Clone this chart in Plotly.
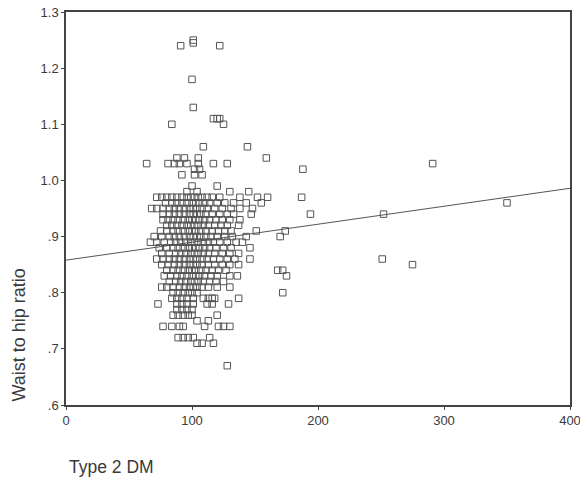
import plotly.graph_objects as go

# Outlying points (Type 2 DM value, waist-to-hip ratio)
outlier_x = [91, 101, 101, 122, 100, 101, 84, 117, 120, 122, 125, 109, 144, 159,
             188, 187, 194, 252, 291, 350, 251, 275, 168, 172, 175, 172, 170, 174, 128]
outlier_y = [1.24, 1.25, 1.245, 1.24, 1.18, 1.13, 1.10, 1.11, 1.11, 1.11, 1.10, 1.06, 1.06, 1.04,
             1.02, 0.97, 0.94, 0.94, 1.03, 0.96, 0.86, 0.85, 0.84, 0.84, 0.83, 0.80, 0.90, 0.91, 0.67]

# Upper part of the main cluster: ratio -> Type 2 DM values
upper_rows = {
    1.04: [88, 94, 105],
    1.03: [64, 81, 86, 90, 96, 105, 117, 128],
    1.02: [102, 106],
    1.01: [92, 102, 108],
    0.99: [100, 120],
    0.98: [96, 104, 130, 145],
    0.97: [72, 76, 80, 84, 88, 92, 96, 99, 102, 105, 108, 112, 116, 122, 138, 152, 160],
    0.96: [79, 84, 88, 92, 96, 100, 103, 106, 110, 114, 120, 126, 133, 143, 155],
    0.95: [68, 72, 77, 82, 86, 90, 94, 98, 101, 104, 108, 112, 118, 124, 131, 138, 148],
    0.94: [77, 82, 86, 90, 94, 98, 101, 104, 107, 111, 116, 122, 128, 133, 147],
    0.93: [77, 81, 85, 89, 93, 97, 100, 103, 106, 110, 114, 119, 124, 130, 138],
    0.92: [80, 84, 88, 92, 96, 99, 102, 105, 109, 113, 118, 123, 128, 137],
    0.91: [75, 80, 85, 89, 93, 97, 100, 103, 107, 111, 116, 121, 126, 131, 151],
}

# Middle part of the main cluster
middle_rows = {
    0.90: [70, 76, 82, 86, 90, 94, 98, 101, 104, 107, 111, 115, 120, 126, 132, 143],
    0.89: [67, 72, 78, 83, 87, 91, 95, 99, 102, 105, 109, 113, 117, 122, 128, 135, 140],
    0.88: [74, 80, 85, 89, 93, 97, 100, 103, 106, 110, 114, 119, 125, 131, 146],
    0.87: [76, 82, 87, 91, 95, 99, 102, 105, 109, 113, 118, 124, 130, 137],
    0.86: [72, 77, 82, 86, 90, 94, 98, 101, 104, 108, 112, 117, 122, 128, 134, 146],
    0.85: [76, 81, 86, 90, 94, 98, 101, 104, 108, 113, 118, 124, 130, 137],
    0.84: [80, 85, 89, 93, 97, 100, 103, 107, 111, 116, 121, 127],
    0.83: [78, 83, 88, 92, 96, 100, 103, 106, 110, 115, 120, 130, 136],
    0.82: [82, 87, 91, 95, 99, 102, 105, 109, 114, 119, 125],
    0.81: [76, 80, 85, 90, 94, 98, 101, 104, 108, 113, 120, 130],
}

# Lower part of the main cluster
lower_rows = {
    0.80: [85, 89, 93, 97, 100, 104],
    0.79: [84, 88, 92, 96, 101, 109, 113, 116, 118, 137],
    0.78: [73, 88, 92, 96, 101, 112, 116, 129],
    0.77: [88, 92, 96, 100],
    0.76: [85, 89, 93, 97, 100, 120],
    0.75: [104, 113],
    0.74: [77, 84, 90, 93, 110, 121, 125, 130],
    0.72: [89, 93, 97, 101, 114],
    0.71: [104, 108, 117],
}

# Fitted regression line
fit_intercept = 0.858
fit_slope = 0.00032
fit_x = [0, 400]

x_ticks = [0, 100, 200, 300, 400]
y_ticks = [0.6, 0.7, 0.8, 0.9, 1.0, 1.1, 1.2, 1.3]
y_tick_labels = [".6", ".7", ".8", ".9", "1.0", "1.1", "1.2", "1.3"]

xs = list(outlier_x)
ys = list(outlier_y)
for rows in (upper_rows, middle_rows, lower_rows):
    for yv, xl in rows.items():
        xs.extend(xl)
        ys.extend([yv] * len(xl))

fit_y = [fit_intercept + fit_slope * v for v in fit_x]

fig = go.Figure()
fig.add_trace(go.Scatter(
    x=fit_x, y=fit_y, mode="lines",
    line=dict(color="#555555", width=1), hoverinfo="skip", showlegend=False))
fig.add_trace(go.Scatter(
    x=xs, y=ys, mode="markers",
    marker=dict(symbol="square-open", size=6.5, color="#555555", line=dict(width=1)),
    showlegend=False))

font_color = "#3a3a3a"
fig.update_layout(
    width=580, height=480,
    margin=dict(l=66, r=10, t=12, b=75, autoexpand=False),
    paper_bgcolor="white", plot_bgcolor="white",
    font=dict(family="Liberation Sans, Arial, sans-serif", color=font_color, size=13),
    showlegend=False,
)
fig.update_xaxes(
    range=[0, 400], tickvals=x_ticks, ticktext=[str(t) for t in x_ticks],
    showgrid=False, zeroline=False, showline=True, linecolor="#444444", linewidth=1.5,
    mirror=True, ticks="outside", ticklen=3, tickcolor="#444444", automargin=False,
    ticklabeloverflow="allow",
    tickfont=dict(size=13, color=font_color),
)
fig.update_yaxes(
    range=[0.6, 1.3], tickvals=y_ticks, ticktext=y_tick_labels,
    showgrid=False, zeroline=False, showline=True, linecolor="#444444", linewidth=1.5,
    mirror=True, ticks="outside", ticklen=3, tickcolor="#444444", automargin=False,
    ticklabeloverflow="allow",
    tickfont=dict(size=13, color=font_color),
)
fig.add_annotation(
    text="Waist to hip ratio", textangle=-90, showarrow=False,
    xref="paper", yref="paper", x=-0.093, y=0.177, xanchor="center", yanchor="middle",
    font=dict(size=18, color=font_color))
fig.add_annotation(
    text="Type 2 DM", showarrow=False,
    xref="paper", yref="paper", x=0.002, y=-0.158, xanchor="left", yanchor="middle",
    font=dict(size=17.5, color=font_color))

fig.write_html("out.html", config={"displayModeBar": False},
               post_script="document.body.style.margin='0';")
